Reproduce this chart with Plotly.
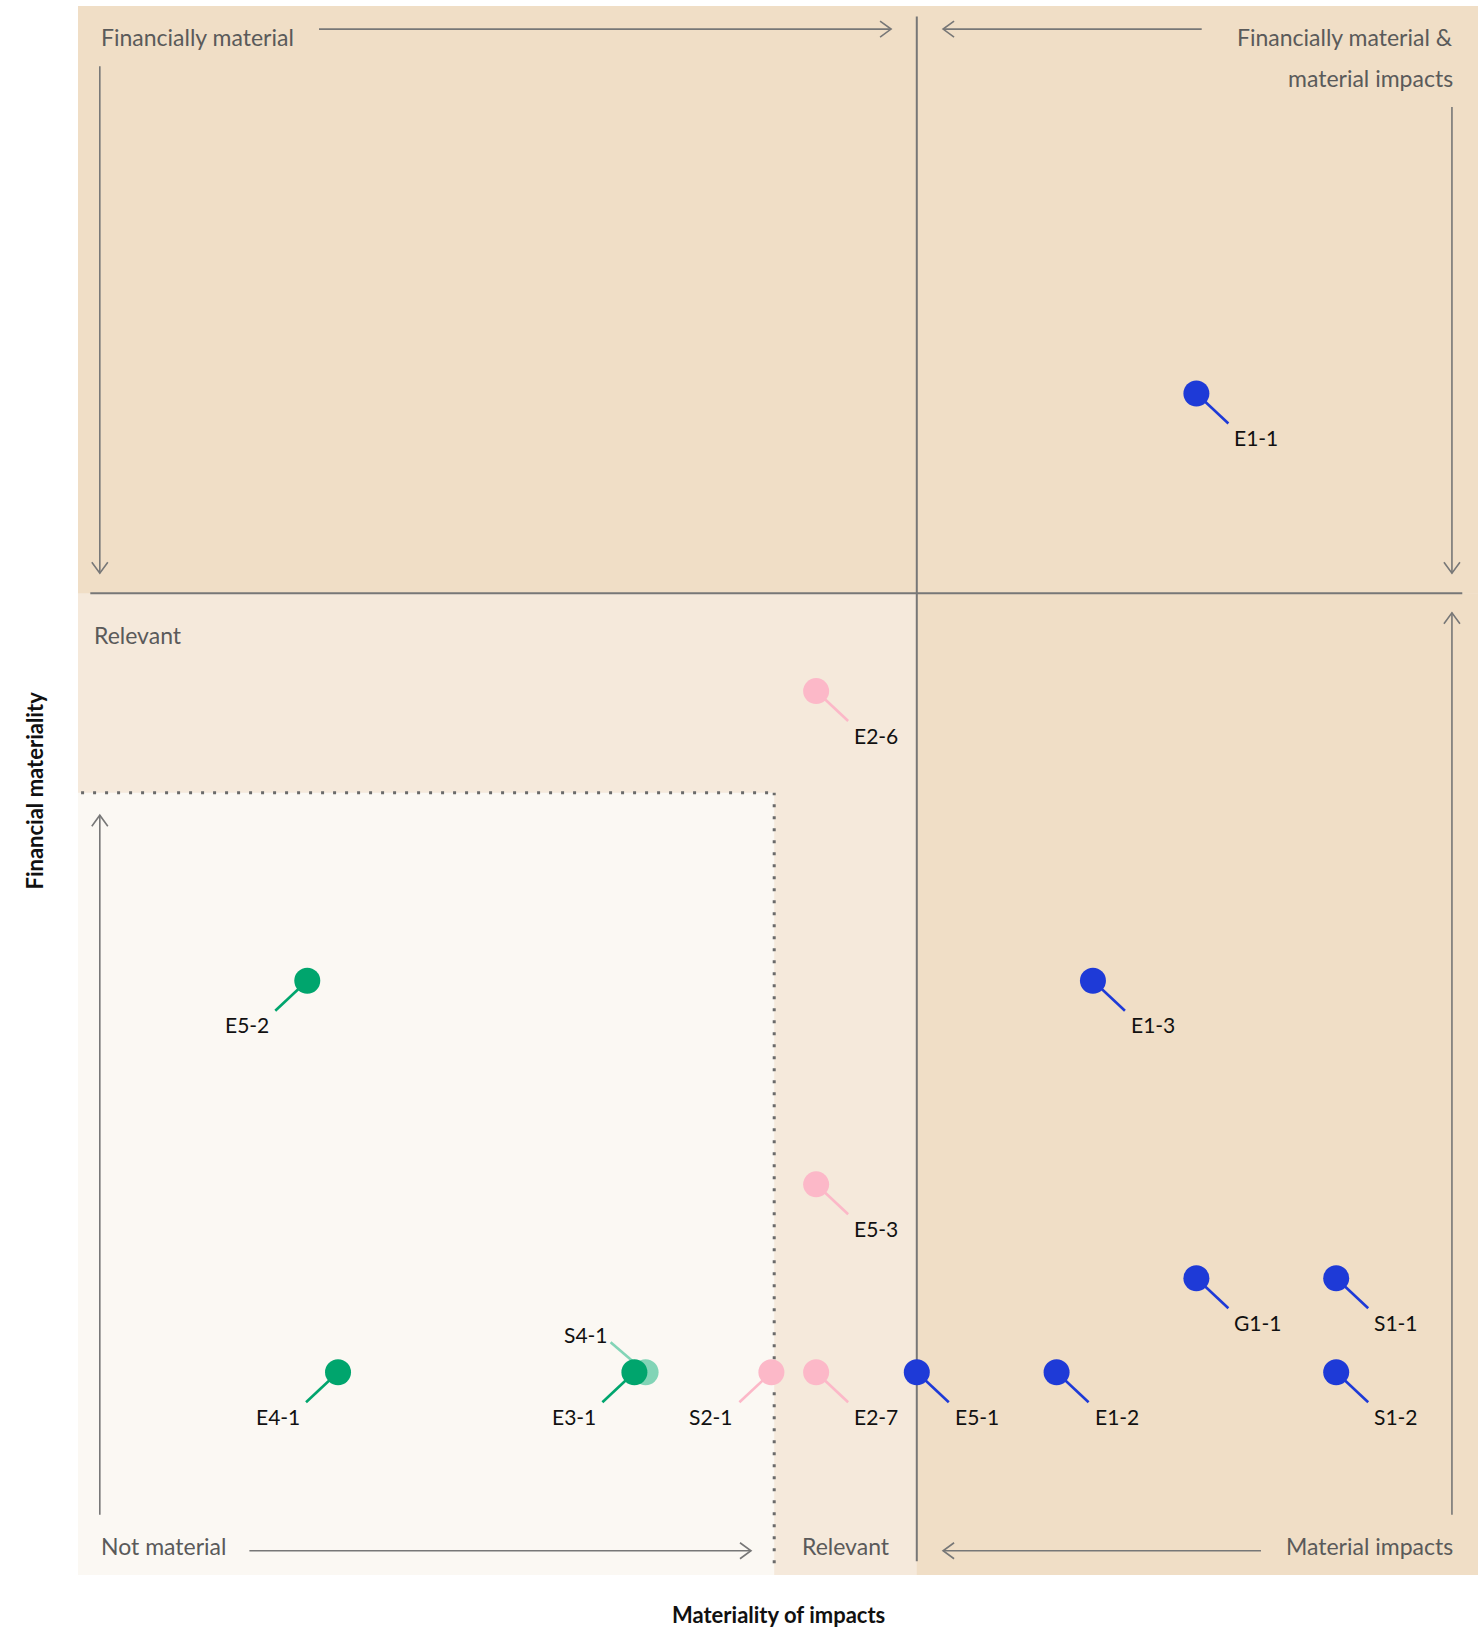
import plotly.graph_objects as go

# ---------------- data ----------------
codes = ["E1-1", "E2-6", "E5-2", "E1-3", "E5-3", "G1-1", "S1-1", "E4-1",
         "S4-1", "E3-1", "S2-1", "E2-7", "E5-1", "E1-2", "S1-2"]
impact = [4.0, 2.64, 0.82, 3.63, 2.64, 4.0, 4.5, 0.93,
          2.03, 1.99, 2.48, 2.64, 3.0, 3.5, 4.5]
financial = [3.5, 2.74, 2.0, 2.0, 1.48, 1.24, 1.24, 1.0,
             1.0, 1.0, 1.0, 1.0, 1.0, 1.0, 1.0]
group = ["blue", "pink", "green", "blue", "pink", "blue", "blue", "green",
         "lightgreen", "green", "pink", "pink", "blue", "blue", "blue"]
label_side = ["DR", "DR", "DL", "DR", "DR", "DR", "DR", "DL",
              "UL", "DL", "DL", "DR", "DR", "DR", "DR"]

material_threshold_x = 3.0
material_threshold_y = 2.99
relevant_x = 2.49
relevant_y = 2.48

x_range = [0, 5.0072]
y_range = [0.482, 4.49]

# ---------------- styles ----------------
colors = {"blue": "#1E3AD7", "pink": "#FCB8C8", "green": "#00A56D",
          "lightgreen": "#82D4B6"}
c_dark = "#F0DEC6"
c_mid = "#F5E9DB"
c_light = "#FBF8F3"
c_line = "#777777"
c_text = "#5A5A5A"
FONT = "Lato"

shapes = []
annotations = []

# background regions
shapes.append(dict(type="rect", xref="x", yref="y", x0=x_range[0], x1=x_range[1],
                   y0=y_range[0], y1=y_range[1], fillcolor=c_mid, line_width=0, layer="below"))
shapes.append(dict(type="rect", xref="x", yref="y", x0=x_range[0], x1=x_range[1],
                   y0=material_threshold_y, y1=y_range[1], fillcolor=c_dark, line_width=0, layer="below"))
shapes.append(dict(type="rect", xref="x", yref="y", x0=material_threshold_x, x1=x_range[1],
                   y0=y_range[0], y1=material_threshold_y, fillcolor=c_dark, line_width=0, layer="below"))
shapes.append(dict(type="rect", xref="x", yref="y", x0=x_range[0], x1=relevant_x,
                   y0=y_range[0], y1=relevant_y, fillcolor=c_light, line_width=0, layer="below"))

# divider lines
shapes.append(dict(type="line", xref="x", yref="y", x0=material_threshold_x, x1=material_threshold_x,
                   y0=0.517, y1=4.463, line=dict(color=c_line, width=2), layer="below"))
shapes.append(dict(type="line", xref="x", yref="y", x0=0.044, x1=4.951,
                   y0=material_threshold_y, y1=material_threshold_y,
                   line=dict(color=c_line, width=2), layer="below"))
# dotted "relevant" boundary
shapes.append(dict(type="line", xref="x", yref="y", x0=0.011, x1=relevant_x,
                   y0=relevant_y, y1=relevant_y,
                   line=dict(color="#6A6A6A", width=3, dash="3px,9px"), layer="below"))
shapes.append(dict(type="line", xref="x", yref="y", x0=relevant_x, x1=relevant_x,
                   y0=0.512, y1=relevant_y,
                   line=dict(color="#6A6A6A", width=3, dash="3px,9px"), layer="below"))

# guide arrows: (tail x, tail y, head x, head y)
arrows = [
    (0.862, 4.431, 2.908, 4.431),
    (4.019, 4.431, 3.094, 4.431),
    (0.078, 4.336, 0.078, 3.041),
    (4.914, 4.232, 4.914, 3.041),
    (0.078, 0.636, 0.078, 2.423),
    (4.914, 0.636, 4.914, 2.940),
    (0.613, 0.544, 2.407, 0.544),
    (4.231, 0.544, 3.094, 0.544),
]
for (tx, ty, hx, hy) in arrows:
    shapes.append(dict(type="line", xref="x", yref="y", x0=tx, y0=ty, x1=hx, y1=hy,
                       line=dict(color=c_line, width=1.6), layer="below"))
    if hx > tx:
        p = "M -11,8 L 0,0 L -11,-8"
    elif hx < tx:
        p = "M 11,8 L 0,0 L 11,-8"
    elif hy < ty:
        p = "M -8,11 L 0,0 L 8,11"
    else:
        p = "M -8,-11 L 0,0 L 8,-11"
    shapes.append(dict(type="path", xref="x", yref="y", xsizemode="pixel", ysizemode="pixel",
                       xanchor=hx, yanchor=hy, path=p,
                       line=dict(color=c_line, width=1.6), layer="below"))

# region texts
region_texts = [
    ("Financially material", 0.074, 4.410, "left"),
    ("Financially material &", 4.925, 4.410, "right"),
    ("material impacts", 4.925, 4.307, "right"),
    ("Relevant", 0.0515, 2.884, "left"),
    ("Not material", 0.074, 0.557, "left"),
    ("Relevant", 2.582, 0.557, "left"),
    ("Material impacts", 4.925, 0.557, "right"),
]
for (t, x, y, anc) in region_texts:
    annotations.append(dict(text=t, x=x, y=y, xref="x", yref="y", xanchor=anc, yanchor="middle",
                            showarrow=False, font=dict(family=FONT, size=23, color=c_text)))

# leader lines and labels
line_off = {"DR": (32, -30), "DL": (-32, -30), "UL": (-35, 30)}
lab_off = {"DR": (36, -44, "left"), "DL": (-36, -44, "right"), "UL": (-36, 38, "right")}
for code, x, y, g, side in zip(codes, impact, financial, group, label_side):
    dx, dy = line_off[side]
    shapes.append(dict(type="line", xref="x", yref="y", xsizemode="pixel", ysizemode="pixel",
                       xanchor=x, yanchor=y, x0=0, y0=0, x1=dx, y1=dy,
                       line=dict(color=colors[g], width=2.6), layer="below"))
    sx, sy, anc = lab_off[side]
    annotations.append(dict(text=code, x=x, y=y, xref="x", yref="y", xanchor=anc, yanchor="middle",
                            xshift=sx, yshift=sy, showarrow=False,
                            font=dict(family=FONT, size=21, color="#111111")))

# axis titles
annotations.append(dict(text="Materiality of impacts", x=0.5, y=0, xref="paper", yref="paper",
                        xanchor="center", yanchor="top", yshift=-24, showarrow=False,
                        font=dict(family=FONT, size=22, color="#111111", weight="bold")))
annotations.append(dict(text="Financial materiality", x=0, y=0.5, xref="paper", yref="paper",
                        xanchor="center", yanchor="middle", xshift=-44, textangle=-90,
                        showarrow=False,
                        font=dict(family=FONT, size=22, color="#111111", weight="bold")))

fig = go.Figure()
fig.add_trace(go.Scatter(
    x=impact, y=financial, mode="markers",
    marker=dict(size=26, color=[colors[g] for g in group], line=dict(width=0)),
    text=codes, hoverinfo="text", showlegend=False,
))

fig.update_layout(
    width=1478, height=1629,
    margin=dict(l=78, r=0, t=6, b=54),
    paper_bgcolor="white", plot_bgcolor="white",
    xaxis=dict(range=x_range, visible=False, fixedrange=True),
    yaxis=dict(range=y_range, visible=False, fixedrange=True),
    shapes=shapes, annotations=annotations,
    font=dict(family=FONT),
)

fig.write_html("out.html", config={"displayModeBar": False},
               post_script="document.body.style.margin='0';document.body.style.overflow='hidden';")
